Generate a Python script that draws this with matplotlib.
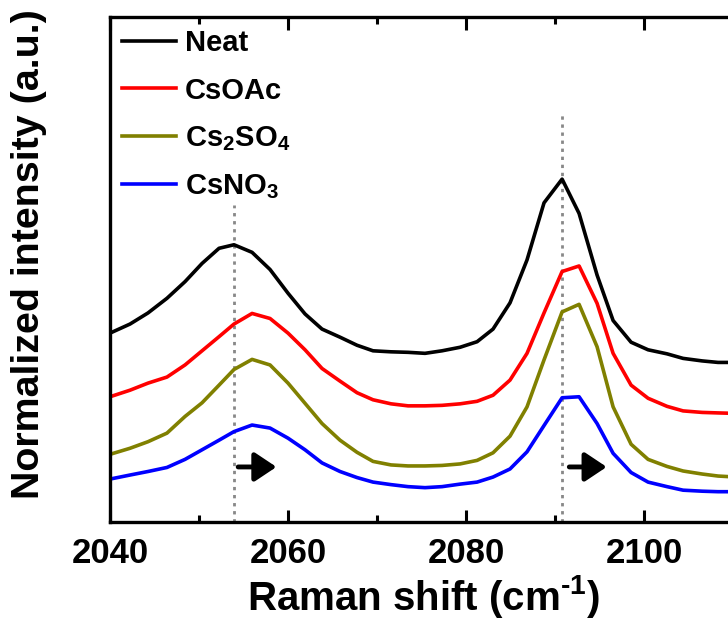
import matplotlib.pyplot as plt
from matplotlib.ticker import MultipleLocator

plt.rcParams['font.family'] = ['Liberation Sans', 'DejaVu Sans']
plt.rcParams['font.weight'] = 'bold'
plt.rcParams['axes.labelweight'] = 'bold'
plt.rcParams['mathtext.fontset'] = 'custom'
plt.rcParams['mathtext.rm'] = 'Liberation Sans:bold'
plt.rcParams['mathtext.bf'] = 'Liberation Sans:bold'
plt.rcParams['mathtext.default'] = 'bf'

# Raman shift (cm-1), shared by every spectrum
shift = [2040.0, 2042.25, 2044.27, 2046.40, 2048.43, 2050.34, 2052.25, 2053.93,
         2055.96, 2057.98, 2060.0, 2061.91, 2063.82, 2065.84, 2067.75, 2069.55,
         2071.57, 2073.48, 2075.39, 2077.30, 2079.33, 2081.24, 2083.03, 2084.94,
         2086.85, 2088.76, 2090.79, 2092.70, 2094.72, 2096.52, 2098.54, 2100.45,
         2102.58, 2104.38, 2106.52, 2108.31, 2110.34]

# normalized intensity, stacked with offsets
neat = [37.4, 39.2, 41.4, 44.3, 47.6, 51.2, 54.2, 54.9, 53.4, 50.0, 45.3, 41.2,
        38.2, 36.6, 35.0, 33.9, 33.7, 33.6, 33.4, 33.9, 34.6, 35.7, 38.2, 43.4,
        51.9, 63.2, 67.9, 61.1, 48.9, 39.9, 35.6, 34.1, 33.3, 32.4, 31.9, 31.6, 31.6]
csoac = [24.8, 26.1, 27.5, 28.7, 31.1, 33.9, 36.7, 39.2, 41.3, 40.3, 37.4, 34.1,
         30.4, 27.9, 25.6, 24.2, 23.4, 23.0, 23.0, 23.1, 23.4, 23.9, 25.1, 28.1,
         33.4, 41.4, 49.6, 50.7, 43.3, 33.4, 27.1, 24.5, 22.9, 22.0, 21.7, 21.6, 21.5]
cs2so4 = [13.4, 14.6, 15.9, 17.6, 20.9, 23.6, 27.1, 30.2, 32.2, 31.1, 27.5, 23.5,
          19.5, 16.2, 13.8, 12.0, 11.3, 11.1, 11.1, 11.2, 11.5, 12.2, 13.7, 17.0,
          22.8, 32.1, 41.6, 43.1, 34.7, 22.8, 15.4, 12.4, 11.0, 10.1, 9.5, 9.1, 8.9]
csno3 = [8.5, 9.3, 10.0, 10.8, 12.4, 14.3, 16.2, 17.9, 19.2, 18.6, 16.6, 14.3,
         11.7, 10.0, 8.8, 7.9, 7.4, 7.0, 6.8, 7.0, 7.5, 7.9, 8.9, 10.5,
         13.9, 19.1, 24.6, 24.8, 19.5, 13.6, 9.8, 7.9, 7.0, 6.3, 6.1, 6.0, 6.0]

labels = ['Neat', 'CsOAc', r'Cs$_2$SO$_4$', r'CsNO$_3$']
colors = ['#000000', '#ff0000', '#808000', '#0000ff']

# reference peak positions of the neat sample
peak_pos = [2053.9, 2090.8]
peak_top = [62.8, 81.0]

fig = plt.figure(figsize=(7.28, 6.28), dpi=100)
ax = fig.add_axes([0.1511, 0.1688, 0.862, 0.8041])

for y, lab, c in zip([neat, csoac, cs2so4, csno3], labels, colors):
    ax.plot(shift, y, color=c, lw=2.6, label=lab)

for xp, yt in zip(peak_pos, peak_top):
    ax.plot([xp, xp], [0, yt], color='#888888', lw=2.0, ls=(0, (1.2, 1.7)), zorder=0)

# blue-shift arrows
for x0, x1 in [(2054.4, 2058.7), (2091.6, 2095.8)]:
    ax.annotate('', xy=(x1, 10.9), xytext=(x0, 10.9),
                arrowprops=dict(arrowstyle='-|>,head_length=0.6,head_width=0.4',
                                lw=3.5, color='k', mutation_scale=22,
                                shrinkA=0, shrinkB=0))

ax.set_xlim(2040, 2110.5)
ax.set_ylim(0, 100)
ax.xaxis.set_major_locator(MultipleLocator(20))
ax.xaxis.set_minor_locator(MultipleLocator(10))
ax.set_yticks([])
ax.tick_params(axis='x', which='both', direction='in', top=True, width=2.2,
               labelsize=25, pad=11)
ax.tick_params(axis='x', which='major', length=9)
ax.tick_params(axis='x', which='minor', length=5)
for s in ax.spines.values():
    s.set_linewidth(2.4)

ax.set_xlabel(r'Raman shift (cm$^{\text{-}1}$)', fontsize=29, labelpad=2)
ax.set_ylabel('Normalized intensity (a.u.)', fontsize=28.4)
ax.yaxis.set_label_coords(-0.100, 0.531)

leg = ax.legend(loc='upper left', frameon=False, fontsize=21, handlelength=1.85,
                handletextpad=0.3, labelspacing=0.66, borderaxespad=0.0,
                borderpad=0.42)

fig.savefig('out.png', dpi=100)
